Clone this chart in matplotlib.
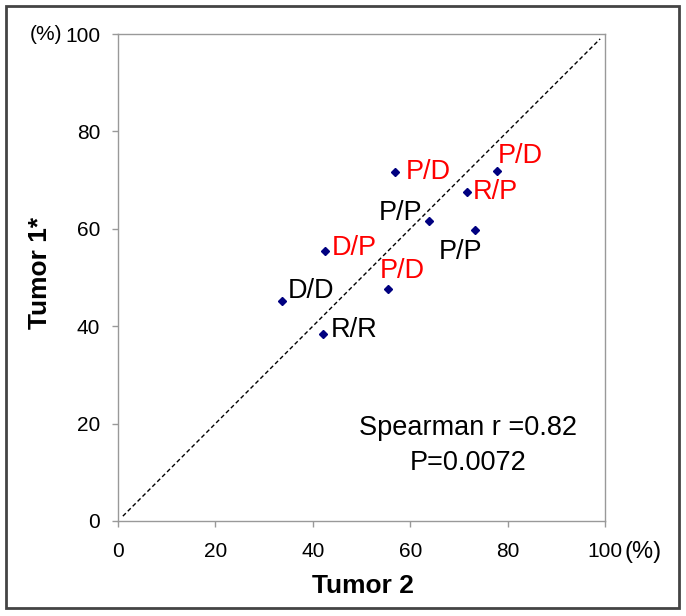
import matplotlib
matplotlib.use("Agg")
import matplotlib.pyplot as plt
from matplotlib.patches import Rectangle

plt.rcParams['font.family'] = ['Liberation Sans', 'DejaVu Sans']

# tumor 2 (x) vs tumor 1 (y), percent
tumor2 = [56.9, 77.8, 71.6, 63.9, 73.3, 42.5, 55.4, 33.7, 42.0]
tumor1 = [71.6, 71.8, 67.5, 61.7, 59.7, 55.4, 47.6, 45.2, 38.5]
pairs = ['P/D', 'P/D', 'R/P', 'P/P', 'P/P', 'D/P', 'P/D', 'D/D', 'R/R']
discordant = [True, True, True, False, False, True, True, False, False]
ticks = [0, 20, 40, 60, 80, 100]

# label offsets in pixels (dx, dy) and alignment
offsets = [(11, 0), (1, 15), (6, 0), (-7, 8), (7, -22), (7, 3), (-8, 18), (6, 10), (8, 4)]
aligns = ['left', 'left', 'left', 'right', 'right', 'left', 'left', 'left', 'left']

W, H = 686, 616
fig = plt.figure(figsize=(W / 100, H / 100), dpi=100)
ax = fig.add_axes([118 / W, 1 - 521 / H, 487 / W, 487 / H])

ax.plot([1, 99], [1, 99], color='black', lw=1, linestyle=(0, (3, 2)))
ax.plot(tumor2, tumor1, linestyle='none', marker='D', markersize=4.5, color='#000080')

for i in range(len(pairs)):
    c = 'red' if discordant[i] else 'black'
    ax.annotate(pairs[i], (tumor2[i], tumor1[i]), xytext=offsets[i], textcoords='offset pixels',
                ha=aligns[i], va='center', fontsize=19.5, color=c)

ax.text(71.8, 19.1, 'Spearman r =0.82', ha='center', va='center', fontsize=19.5)
ax.text(71.8, 11.9, 'P=0.0072', ha='center', va='center', fontsize=19.5)

ax.set_xlim(0, 100)
ax.set_ylim(0, 100)
ax.set_xticks(ticks)
ax.set_yticks(ticks)
ax.tick_params(axis='both', colors='#999999', labelcolor='black', labelsize=15, length=4.3, width=1)
ax.tick_params(axis='x', pad=11)
ax.tick_params(axis='y', pad=8.6)
for s in ax.spines.values():
    s.set_color('#999999')
    s.set_linewidth(1)

fig.text(625 / W, 1 - 552 / H, '(%)', ha='left', va='center', fontsize=17)
fig.text(62 / W, 1 - 34 / H, '(%)', ha='right', va='center', fontsize=15)
fig.text(363 / W, 1 - 586 / H, 'Tumor 2', ha='center', va='center', fontsize=19, fontweight='bold')
fig.text(40 / W, 1 - 273 / H, 'Tumor 1*', ha='center', va='center', rotation=90, fontsize=19, fontweight='bold')

fig.patches.append(Rectangle((6 / W, 1 - 608 / H), 673 / W, 602 / H, transform=fig.transFigure,
                             fill=False, edgecolor='#444444', lw=2))

fig.savefig('out.png', dpi=100, facecolor='white')
